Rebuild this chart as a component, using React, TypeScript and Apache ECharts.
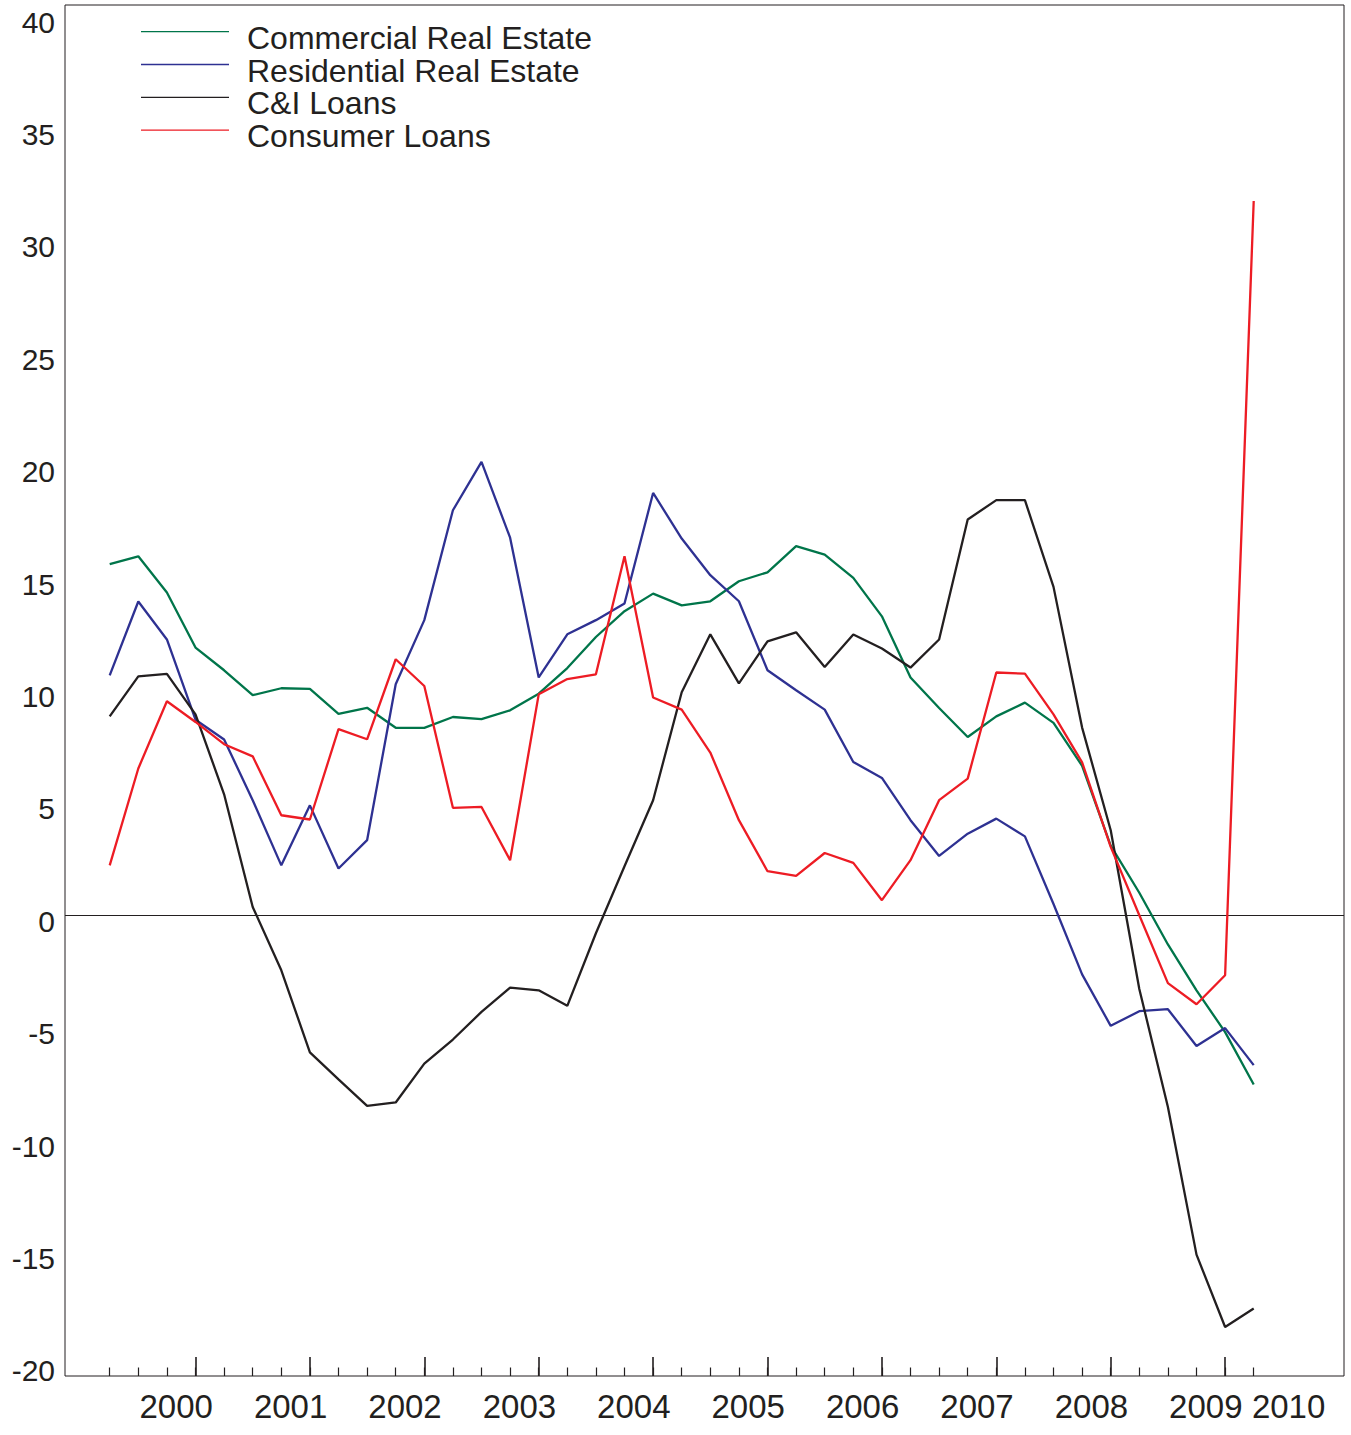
import React, { useEffect, useRef } from "react";
import * as echarts from "echarts";

// Quarterly percentage figures, one value per quarter (index 0..40)
const seriesNames = [
  "Commercial Real Estate",
  "Residential Real Estate",
  "C&I Loans",
  "Consumer Loans",
];

const commercialRealEstate = [
  15.62, 15.97, 14.36, 11.91, 10.9, 9.79, 10.1, 10.07, 8.96, 9.23,
  8.34, 8.34, 8.82, 8.73, 9.12, 9.86, 11.0, 12.38, 13.53, 14.31,
  13.79, 13.97, 14.86, 15.26, 16.42, 16.05, 15.01, 13.3, 10.58, 9.22,
  7.93, 8.85, 9.46, 8.56, 6.65, 3.1, 1.0, -1.3, -3.34, -5.2,
  -7.53,
];

const residentialRealEstate = [
  10.67, 13.96, 12.27, 8.7, 7.82, 5.12, 2.22, 4.89, 2.08, 3.34,
  10.28, 13.13, 18.02, 20.17, 16.8, 10.58, 12.5, 13.13, 13.87, 18.79,
  16.76, 15.13, 13.97, 10.9, 10.01, 9.15, 6.82, 6.11, 4.23, 2.64,
  3.63, 4.3, 3.51, 0.5, -2.63, -4.92, -4.27, -4.18, -5.82, -5.02,
  -6.67,
];

const cAndILoans = [
  8.85, 10.63, 10.74, 8.94, 5.38, 0.37, -2.45, -6.1, -7.3, -8.48,
  -8.33, -6.6, -5.53, -4.3, -3.22, -3.34, -4.03, -0.8, 2.18, 5.12,
  9.92, 12.5, 10.32, 12.19, 12.59, 11.05, 12.49, 11.87, 11.02, 12.27,
  17.61, 18.47, 18.47, 14.61, 8.35, 3.78, -3.28, -8.53, -15.1, -18.32,
  -17.5,
];

const consumerLoans = [
  2.22, 6.53, 9.52, 8.6, 7.61, 7.07, 4.45, 4.26, 8.28, 7.83,
  11.39, 10.2, 4.78, 4.82, 2.45, 9.83, 10.51, 10.72, 15.97, 9.69,
  9.15, 7.24, 4.23, 1.96, 1.75, 2.77, 2.33, 0.67, 2.45, 5.12,
  6.08, 10.8, 10.75, 8.94, 6.8, 3.04, 0.0, -3.02, -3.96, -2.67,
  31.78,
];

const seriesColors = ["#00754A", "#2E3192", "#231F20", "#ED1C24"];

// Axis ticks and labels
const yTickValues = [-20, -15, -10, -5, 0, 5, 10, 15, 20, 25, 30, 35, 40];
const quarterTicks = [
  0, 1, 2, 3, 4, 5, 6, 7, 8, 9, 10, 11, 12, 13, 14, 15, 16, 17, 18, 19, 20,
  21, 22, 23, 24, 25, 26, 27, 28, 29, 30, 31, 32, 33, 34, 35, 36, 37, 38, 39, 40,
];
const yearTicks = [3, 7, 11, 15, 19, 23, 27, 31, 35, 39];
const yearLabels = [
  "2000", "2001", "2002", "2003", "2004", "2005",
  "2006", "2007", "2008", "2009", "2010",
];
const yearLabelPositions = [
  2.325, 6.325, 10.325, 14.325, 18.325, 22.325,
  26.325, 30.325, 34.325, 38.325, 41.22,
];

const FONT = "'Liberation Sans', Arial, Helvetica, sans-serif";
const INK = "#231F20";
const X_MIN = -1.563;
const X_MAX = 43.157;

// Legend key: a thin bar at the top of a 13.3px tall box, so the name
// sits slightly below its key line
const LEGEND_KEY = "path://M0,0H88V1.3H0Z M0,13.2H0.01V13.3H0Z";

const valuesBySeries = [
  commercialRealEstate,
  residentialRealEstate,
  cAndILoans,
  consumerLoans,
];

export default function App() {
  const ref = useRef<HTMLDivElement>(null);

  useEffect(() => {
    if (!ref.current) return;
    const chart = echarts.init(ref.current, null, { renderer: "svg" });

    const series: any[] = valuesBySeries.map((values, s) => ({
      name: seriesNames[s],
      type: "line",
      xAxisIndex: 0,
      yAxisIndex: 0,
      symbol: "none",
      showSymbol: false,
      data: values.map((v, i) => [i, v]),
      lineStyle: { color: seriesColors[s], width: 2.3 },
      itemStyle: { color: seriesColors[s] },
      z: 3,
      ...(s === 0
        ? {
            markLine: {
              silent: true,
              symbol: "none",
              label: { show: false },
              lineStyle: { color: INK, width: 1, type: "solid" },
              data: [{ yAxis: 0 }],
              z: 2,
            },
          }
        : {}),
    }));

    const labelFormatter = (value: number) => {
      let best = 0;
      for (let k = 1; k < yearLabelPositions.length; k++) {
        if (
          Math.abs(yearLabelPositions[k] - value) <
          Math.abs(yearLabelPositions[best] - value)
        ) {
          best = k;
        }
      }
      return yearLabels[best];
    };

    chart.setOption({
      animation: false,
      backgroundColor: "#ffffff",
      grid: {
        left: 65,
        right: 7,
        top: 5,
        bottom: 59,
        show: true,
        borderColor: INK,
        borderWidth: 1,
        backgroundColor: "transparent",
      },
      legend: {
        orient: "vertical",
        left: 141,
        top: 21.7,
        padding: 0,
        itemWidth: 88,
        itemHeight: 13.3,
        itemGap: 0.8,
        selectedMode: false,
        icon: LEGEND_KEY,
        textStyle: {
          fontFamily: FONT,
          fontSize: 32,
          color: INK,
          padding: [0, 0, 0, 13],
        },
        data: seriesNames,
      },
      xAxis: [
        {
          type: "value",
          position: "bottom",
          min: X_MIN,
          max: X_MAX,
          axisLine: { show: false, onZero: false },
          splitLine: { show: false },
          axisTick: {
            show: true,
            inside: true,
            length: 8.5,
            customValues: quarterTicks,
            lineStyle: { color: INK, width: 1.2 },
          },
          axisLabel: {
            show: true,
            customValues: yearLabelPositions,
            formatter: labelFormatter,
            margin: 14,
            fontFamily: FONT,
            fontSize: 33,
            color: INK,
          },
        },
        {
          type: "value",
          position: "bottom",
          min: X_MIN,
          max: X_MAX,
          axisLine: { show: false, onZero: false },
          splitLine: { show: false },
          axisTick: {
            show: true,
            inside: true,
            length: 19,
            customValues: yearTicks,
            lineStyle: { color: INK, width: 1.6 },
          },
          axisLabel: { show: false },
        },
      ],
      yAxis: {
        type: "value",
        min: -20.5,
        max: 40.5,
        axisLine: { show: false },
        axisTick: { show: false },
        splitLine: { show: false },
        axisLabel: {
          customValues: yTickValues,
          margin: 10,
          fontFamily: FONT,
          fontSize: 30,
          color: INK,
          verticalAlign: "top",
          lineHeight: 12,
        },
      },
      series,
    });

    return () => {
      chart.dispose();
    };
  }, []);

  return (
    <div
      ref={ref}
      style={{
        position: "absolute",
        left: 0,
        top: 0,
        width: 1351,
        height: 1435,
        background: "#ffffff",
      }}
    />
  );
}
